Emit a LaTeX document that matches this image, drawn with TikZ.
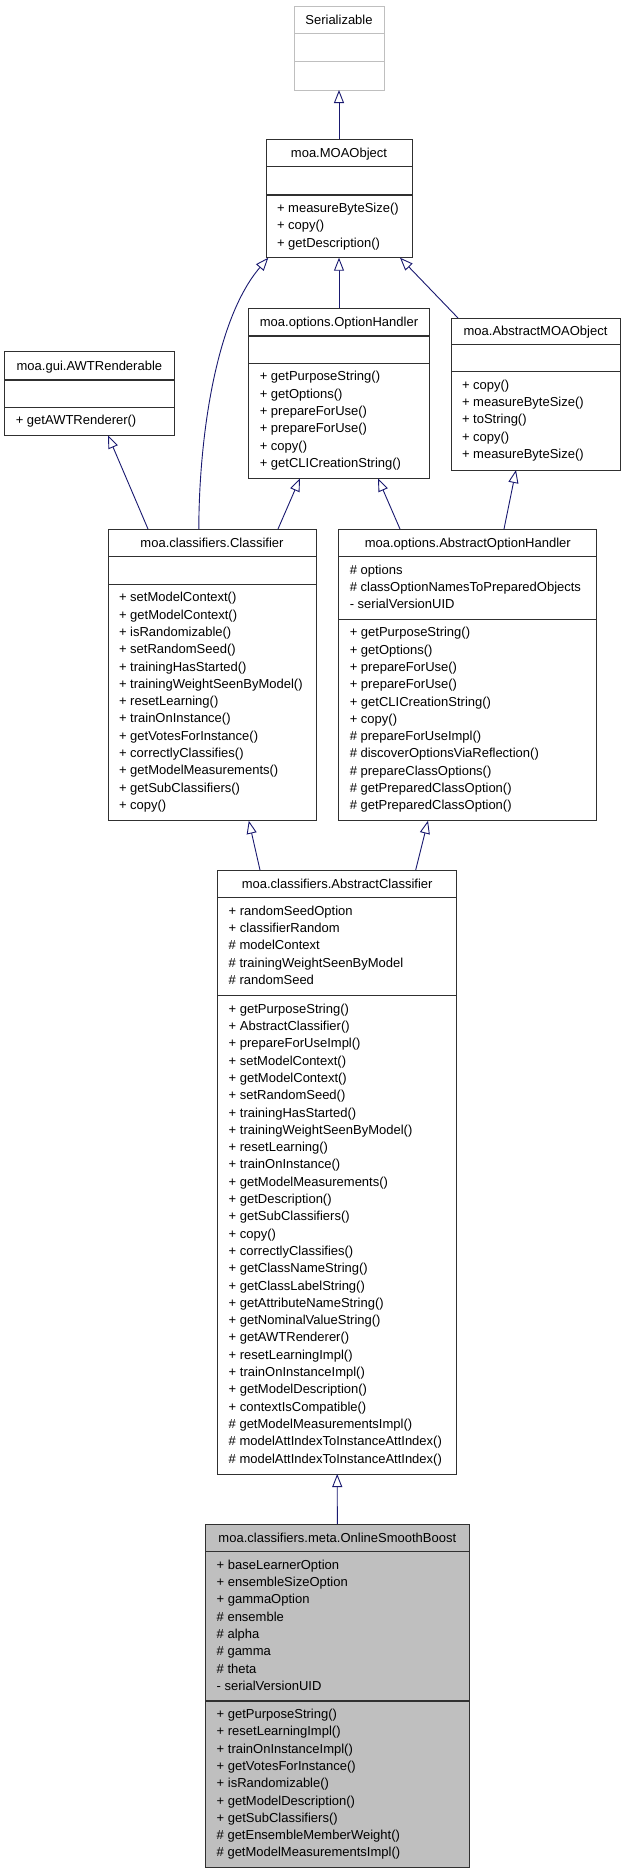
\documentclass[tikz,border=0pt]{standalone}
\usepackage{fontspec}
\setmainfont{Liberation Sans}
\usetikzlibrary{arrows.meta}
\definecolor{navyline}{HTML}{191970}
\definecolor{lightgrayb}{HTML}{BFBFBF}
\definecolor{boxline}{HTML}{303030}
\tikzset{
  cls/.style={draw=boxline, line width=1pt, rectangle, inner sep=0pt, outer sep=0pt, anchor=north west, fill=white},
  sepline/.style={draw=boxline, line width=1.3pt},
  txt/.style={anchor=base west, inner sep=0pt, outer sep=0pt, font=\fontsize{13}{15}\selectfont},
  ttl/.style={anchor=base, inner sep=0pt, outer sep=0pt, font=\fontsize{13}{15}\selectfont},
  inh/.style={draw=navyline, line width=0.9pt, -{Triangle[length=13pt, width=10pt, fill=white]}}
}
\newcommand\seprule[3][boxline]{\draw[sepline, draw=#1] (#2.west |- 0,#3) -- (#2.east |- 0,#3);}
\newcommand\umllines[4]{\foreach \t [count=\i] in {#4}{\node[txt] (#1-\i) at (#2,#3+17.3*\i-17.3) {\t};}}
\begin{document}
\begin{tikzpicture}[x=1pt,y=-1pt]
\useasboundingbox (0,0) rectangle (624,1875);

% Serializable
\node[cls, draw=lightgrayb, minimum width=90pt, minimum height=84pt] (ser) at (294,6) {};
\seprule[lightgrayb]{ser}{33.3}
\seprule[lightgrayb]{ser}{61.7}
\node[ttl] (ser-t) at (339,24.4) {Serializable};

% MOAObject
\node[cls, minimum width=146pt, minimum height=118.7pt] (moa) at (266,139) {};
\seprule{moa}{166.7}
\seprule{moa}{195}
\node[ttl] (moa-t) at (339,157.4) {moa.MOAObject};
\umllines{moam}{277}{212.5}{+ measureByteSize(), + copy(), + getDescription()}

% OptionHandler
\node[cls, minimum width=180.4pt, minimum height=170pt] (oh) at (248.8,308.3) {};
\seprule{oh}{336}
\seprule{oh}{363.3}
\node[ttl] (oh-t) at (339,326.7) {moa.options.OptionHandler};
\umllines{ohm}{259.8}{380.8}{+ getPurposeString(), + getOptions(), + prepareForUse(), + prepareForUse(), + copy(), + getCLICreationString()}

% AbstractMOAObject
\node[cls, minimum width=169pt, minimum height=152pt] (amo) at (451,318) {};
\seprule{amo}{344.3}
\seprule{amo}{371.8}
\node[ttl] (amo-t) at (535.5,335.6) {moa.AbstractMOAObject};
\umllines{amom}{462}{389.3}{+ copy(), + measureByteSize(), + toString(), + copy(), + measureByteSize()}

% AWTRenderable
\node[cls, minimum width=169.2pt, minimum height=83.6pt] (awt) at (4.8,351.7) {};
\seprule{awt}{380}
\seprule{awt}{407.3}
\node[ttl] (awt-t) at (89.4,370.1) {moa.gui.AWTRenderable};
\umllines{awtm}{15.8}{424.8}{+ getAWTRenderer()}

% Classifier
\node[cls, minimum width=208pt, minimum height=291.7pt] (cl) at (108,529) {};
\seprule{cl}{556.7}
\seprule{cl}{584.3}
\node[ttl] (cl-t) at (212,547.4) {moa.classifiers.Classifier};
\umllines{clm}{119}{601.8}{+ setModelContext(), + getModelContext(), + isRandomizable(), + setRandomSeed(), + trainingHasStarted(), + trainingWeightSeenByModel(), + resetLearning(), + trainOnInstance(), + getVotesForInstance(), + correctlyClassifies(), + getModelMeasurements(), + getSubClassifiers(), + copy()}

% AbstractOptionHandler
\node[cls, minimum width=258pt, minimum height=291.7pt] (aoh) at (338.8,529) {};
\seprule{aoh}{556.7}
\seprule{aoh}{619.3}
\node[ttl] (aoh-t) at (467.8,547.4) {moa.options.AbstractOptionHandler};
\umllines{aoha}{349.8}{574.2}{\# options, \# classOptionNamesToPreparedObjects, - serialVersionUID}
\umllines{aohm}{349.8}{636.8}{+ getPurposeString(), + getOptions(), + prepareForUse(), + prepareForUse(), + getCLICreationString(), + copy(), \# prepareForUseImpl(), \# discoverOptionsViaReflection(), \# prepareClassOptions(), \# getPreparedClassOption(), \# getPreparedClassOption()}

% AbstractClassifier
\node[cls, minimum width=239pt, minimum height=604pt] (ac) at (217.7,870) {};
\seprule{ac}{897.7}
\seprule{ac}{995.7}
\node[ttl] (ac-t) at (337.2,888.4) {moa.classifiers.AbstractClassifier};
\umllines{aca}{228.7}{915.2}{+ randomSeedOption, + classifierRandom, \# modelContext, \# trainingWeightSeenByModel, \# randomSeed}
\umllines{acm}{228.7}{1013.2}{+ getPurposeString(), + AbstractClassifier(), + prepareForUseImpl(), + setModelContext(), + getModelContext(), + setRandomSeed(), + trainingHasStarted(), + trainingWeightSeenByModel(), + resetLearning(), + trainOnInstance(), + getModelMeasurements(), + getDescription(), + getSubClassifiers(), + copy(), + correctlyClassifies(), + getClassNameString(), + getClassLabelString(), + getAttributeNameString(), + getNominalValueString(), + getAWTRenderer(), + resetLearningImpl(), + trainOnInstanceImpl(), + getModelDescription(), + contextIsCompatible(), \# getModelMeasurementsImpl(), \# modelAttIndexToInstanceAttIndex(), \# modelAttIndexToInstanceAttIndex()}

% OnlineSmoothBoost
\node[cls, fill=lightgrayb, minimum width=263.3pt, minimum height=343.7pt] (osb) at (205.7,1524) {};
\seprule{osb}{1551.7}
\seprule{osb}{1701}
\node[ttl] (osb-t) at (337.35,1542.4) {moa.classifiers.meta.OnlineSmoothBoost};
\umllines{osba}{216.7}{1569.2}{+ baseLearnerOption, + ensembleSizeOption, + gammaOption, \# ensemble, \# alpha, \# gamma, \# theta, - serialVersionUID}
\umllines{osbm}{216.7}{1718.5}{+ getPurposeString(), + resetLearningImpl(), + trainOnInstanceImpl(), + getVotesForInstance(), + isRandomizable(), + getModelDescription(), + getSubClassifiers(), \# getEnsembleMemberWeight(), \# getModelMeasurementsImpl()}

% inheritance connectors
\draw[inh] (moa.north) -- (ser.south);
\draw[inh] (oh.north) -- (moa.south);
\draw[inh] ([xshift=7pt]amo.north west) -- ([xshift=-12pt]moa.south east);
\draw[inh] ([xshift=90.8pt]cl.north west) .. controls +(0.2,-89) and +(-53.3,62) .. ([xshift=2.3pt]moa.south west);
\draw[inh] ([xshift=40pt]cl.north west) -- ([xshift=103.2pt]awt.south west);
\draw[inh] ([xshift=170pt]cl.north west) -- ([xshift=51.2pt]oh.south west);
\draw[inh] ([xshift=61.2pt]aoh.north west) -- ([xshift=129.2pt]oh.south west);
\draw[inh] ([xshift=165.2pt]aoh.north west) -- ([xshift=65pt]amo.south west);
\draw[inh] ([xshift=42.3pt]ac.north west) -- ([xshift=140.8pt]cl.south west);
\draw[inh] ([xshift=198pt]ac.north west) -- ([xshift=89.2pt]aoh.south west);
\draw[inh] (osb.north) -- (ac.south);
\end{tikzpicture}
\end{document}
